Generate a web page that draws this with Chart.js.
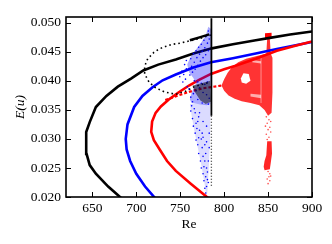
<!DOCTYPE html>
<html><head><meta charset="utf-8">
<script src="https://cdn.jsdelivr.net/npm/chart.js@4/dist/chart.umd.min.js"></script>
<style>html,body{margin:0;padding:0;background:#fff}#wrap{width:332px;height:244px}</style>
</head><body><div id="wrap"><canvas id="c" width="332" height="244"></canvas></div>
<script>
// ---- tick labels ----
const xTicks = [650, 700, 750, 800, 850, 900];
const yTicks = [0.020, 0.025, 0.030, 0.035, 0.040, 0.045, 0.050];

// ---- saddle-node curves ----
const blackRe = [683, 668, 654, 647, 643.5, 643, 647, 654, 666, 679, 694, 708, 725, 745, 765, 786, 810, 836, 852, 875, 900];
const blackE  = [0.0198, 0.0218, 0.0240, 0.0255, 0.0274, 0.0312, 0.0329, 0.0355, 0.0374, 0.0390, 0.0404, 0.0418, 0.0428, 0.0437, 0.0447, 0.0456, 0.0463, 0.0470, 0.0474, 0.0480, 0.0485];

const blueRe = [722, 710, 700, 693, 689, 688, 690, 697.6, 707, 718.5, 730, 745, 765, 785, 810, 836, 860, 880, 900];
const blueE  = [0.0197, 0.0218, 0.0240, 0.0262, 0.0282, 0.0300, 0.0325, 0.0355, 0.0374, 0.0389, 0.0401, 0.0411, 0.0423, 0.0432, 0.0439, 0.0447, 0.0455, 0.0461, 0.0467];

const redRe = [782, 762, 745, 735, 727, 720, 717, 718, 722, 728, 737, 748, 760, 772, 785, 800, 813, 836, 860, 880, 900];
const redE  = [0.0198, 0.0223, 0.0245, 0.0262, 0.0281, 0.0298, 0.0312, 0.0330, 0.0345, 0.0356, 0.0368, 0.0380, 0.0392, 0.0402, 0.0412, 0.0420, 0.0426, 0.0438, 0.0452, 0.0460, 0.0468];

// ---- unstable branches ----
const loopRe = [785, 772, 761, 750, 741, 733, 726, 720, 713, 709.5, 709.5, 714.5, 722, 732, 745, 756, 766, 784];
const loopE  = [0.0479, 0.0473, 0.0469, 0.0465, 0.0463, 0.0459, 0.0455, 0.0449, 0.0438, 0.0425, 0.0412, 0.0398, 0.0388, 0.0381, 0.0377, 0.0382, 0.0390, 0.0398];

const redDashRe = [733, 748, 760, 775, 797];
const redDashE  = [0.0367, 0.0375, 0.0381, 0.0387, 0.0392];

// ---- black attractor points ----
const blackTopRe = [761, 772, 783];
const blackTopE  = [0.0470, 0.0475, 0.0480];
const blackClusterRe = [764, 770, 784, 785, 779, 773, 767];
const blackClusterE  = [0.0392, 0.0394, 0.0400, 0.0364, 0.0360, 0.0366, 0.0380];
const blackVertRe = [785.5, 785.5];
const blackVertE  = [0.0508, 0.0340];
const blackVertDotRe = [785.5, 785.5];
const blackVertDotE  = [0.0340, 0.0218];

// ---- blue attractor cloud ----
const blueUpRe = [782, 785.5, 785, 784.5, 784.5, 780, 770, 763, 761, 763, 768, 765, 760, 758, 762, 768, 774, 779];
const blueUpE  = [0.0493, 0.0489, 0.0450, 0.0400, 0.0360, 0.0358, 0.0360, 0.0362, 0.0368, 0.0380, 0.0395, 0.0405, 0.0415, 0.0428, 0.0442, 0.0454, 0.0466, 0.0478];
const blueLowRe = [761, 784.5, 784, 782.5, 781, 780, 777.5, 774, 770, 766, 763];
const blueLowE  = [0.0360, 0.0360, 0.0300, 0.0250, 0.0210, 0.0200, 0.0225, 0.0255, 0.0285, 0.0315, 0.0340];
const blueDotRe = [749.5, 752, 754, 756, 757, 755, 753, 758, 760, 757, 762, 764, 765, 767, 768, 770, 771, 773, 774, 776, 777, 778, 779, 770, 775, 778, 772, 776, 780, 781, 766, 769, 774, 779,
  762, 765, 768, 771, 774, 777, 780, 782, 763, 766, 769, 772, 775, 778, 781, 783, 761, 764, 767, 770, 773, 776, 779, 782, 766, 770, 774, 778, 781, 762, 765, 768, 772, 776, 780, 783, 764, 770, 775, 782,
  763, 767, 771, 776, 780, 783, 768, 772, 776, 780, 783, 771, 775, 778, 782, 777, 781, 779, 780, 782];
const blueDotE  = [0.0407, 0.0417, 0.0411, 0.0403, 0.0421, 0.0428, 0.0398, 0.0390, 0.0386, 0.0435, 0.0348, 0.0335, 0.0322, 0.0310, 0.0298, 0.0290, 0.0275, 0.0262, 0.0250, 0.0240, 0.0228, 0.0215, 0.0207, 0.0330, 0.0310, 0.0290, 0.0345, 0.0270, 0.0250, 0.0230, 0.0352, 0.0318, 0.0300, 0.0275,
  0.0438, 0.0447, 0.0452, 0.0458, 0.0463, 0.0470, 0.0478, 0.0486, 0.0425, 0.0432, 0.0440, 0.0446, 0.0451, 0.0457, 0.0465, 0.0472, 0.0410, 0.0415, 0.0420, 0.0427, 0.0434, 0.0440, 0.0445, 0.0452, 0.0400, 0.0398, 0.0396, 0.0394, 0.0398, 0.0372, 0.0378, 0.0383, 0.0388, 0.0380, 0.0376, 0.0370, 0.0364, 0.0368, 0.0362, 0.0360,
  0.0357, 0.0345, 0.0338, 0.0330, 0.0322, 0.0310, 0.0327, 0.0315, 0.0303, 0.0295, 0.0285, 0.0302, 0.0285, 0.0262, 0.0262, 0.0252, 0.0243, 0.0235, 0.0218, 0.0225];

// ---- red attractor cloud ----
const redCloudRe = [797, 800, 804, 809, 816, 825, 835, 843, 848, 849, 852, 853, 855, 855, 854, 850, 846, 840, 830, 820, 812, 805, 800];
const redCloudE  = [0.0392, 0.0403, 0.0414, 0.0424, 0.0432, 0.0438, 0.0442, 0.0445, 0.0447, 0.0473, 0.0473, 0.0447, 0.0440, 0.0380, 0.0345, 0.0340, 0.0350, 0.0358, 0.0362, 0.0365, 0.0369, 0.0375, 0.0383];
const redTopRe = [846.5, 854, 854, 846.5];
const redTopE  = [0.0482, 0.0483, 0.0473, 0.0473];
const redBlobRe = [849, 854, 854.5, 853, 852, 846, 845, 846, 848];
const redBlobE  = [0.0296, 0.0296, 0.0275, 0.0258, 0.0248, 0.0246, 0.0252, 0.0262, 0.0272];
const holeARe = [819, 822, 828, 830, 825, 820];
const holeAE  = [0.0404, 0.0413, 0.0412, 0.0400, 0.0395, 0.0397];
const holeBRe = [832, 842, 842, 832];
const holeBE  = [0.0436, 0.0434, 0.0430, 0.0432];
const holeCRe = [830, 842, 842, 830];
const holeCE  = [0.0378, 0.0376, 0.0370, 0.0373];
const holeDRe = [841, 843, 843, 841];
const holeDE  = [0.0440, 0.0440, 0.0362, 0.0362];
const redDotRe = [848, 851, 849, 852, 850, 853, 848, 851, 849, 853, 850, 852, 851, 849, 852, 850, 853, 847];
const redDotE  = [0.0338, 0.0333, 0.0327, 0.0320, 0.0316, 0.0312, 0.0308, 0.0303, 0.0299, 0.0330, 0.0244, 0.0240, 0.0235, 0.0231, 0.0228, 0.0223, 0.0236, 0.0322];

const pts = (re, e) => re.map((v, i) => ({x: v, y: e[i]}));
const line = (re, e, color, w, order, dash) => ({data: pts(re, e), showLine: true, borderColor: color, borderWidth: w, pointRadius: 0, fill: false, order, borderDash: dash || [], borderCapStyle: 'butt'});
const poly = (re, e, color, order) => ({data: pts(re, e), showLine: true, borderWidth: 0, borderColor: 'rgba(0,0,0,0)', backgroundColor: color, pointRadius: 0, fill: 'shape', order});
const dots = (re, e, color, r, order) => ({data: pts(re, e), showLine: false, pointRadius: r, pointBorderWidth: 0, pointBackgroundColor: color, order});

const serif = '"Liberation Serif", "DejaVu Serif", serif';

const frameTicks = {
  id: 'frameTicks',
  afterDatasetsDraw(chart) {
    const {ctx, chartArea: a, scales: {x, y}} = chart;
    ctx.save();
    ctx.strokeStyle = '#000';
    ctx.lineWidth = 1;
    ctx.beginPath();
    x.ticks.forEach(t => {
      const p = Math.round(x.getPixelForValue(t.value)) + 0.5;
      ctx.moveTo(p, a.bottom); ctx.lineTo(p, a.bottom - 5);
      ctx.moveTo(p, a.top); ctx.lineTo(p, a.top + 5);
    });
    y.ticks.forEach(t => {
      const p = Math.round(y.getPixelForValue(t.value)) + 0.5;
      ctx.moveTo(a.left, p); ctx.lineTo(a.left + 5, p);
      ctx.moveTo(a.right, p); ctx.lineTo(a.right - 5, p);
    });
    ctx.stroke();
    ctx.lineWidth = 1.6;
    ctx.strokeRect(a.left, a.top, a.right - a.left, a.bottom - a.top);
    ctx.restore();
  }
};

new Chart(document.getElementById('c'), {
  type: 'scatter',
  data: {
    datasets: [
      poly(redCloudRe, redCloudE, 'rgba(255,0,0,0.8)', 30),
      poly(holeARe, holeAE, '#ffffff', 29),
      poly(holeBRe, holeBE, 'rgba(255,255,255,0.6)', 29),
      poly(holeCRe, holeCE, 'rgba(255,255,255,0.6)', 29),
      poly(holeDRe, holeDE, 'rgba(255,255,255,0.25)', 29),
      poly(redTopRe, redTopE, '#ff0000', 28),
      poly(redBlobRe, redBlobE, 'rgba(255,0,0,0.85)', 28),
      dots(redDotRe, redDotE, 'rgba(255,0,0,0.7)', 0.8, 28),
      line(blackRe, blackE, '#000000', 2.6, 20),
      line(blueRe, blueE, '#0000ff', 2.6, 19),
      line(redRe, redE, '#ff0000', 2.6, 18),
      line(loopRe, loopE, '#000000', 1.6, 17, [1.6, 3]),
      line(redDashRe, redDashE, '#ff0000', 2.2, 16, [3, 2]),
      poly(blueUpRe, blueUpE, 'rgba(0,0,255,0.33)', 12),
      poly(blueLowRe, blueLowE, 'rgba(0,0,255,0.14)', 12),
      dots(blueDotRe, blueDotE, '#0000ff', 0.8, 11),
      line(blackTopRe, blackTopE, '#000000', 2.5, 5),
      poly(blackClusterRe, blackClusterE, 'rgba(0,0,0,0.5)', 5),
      line(blackVertRe, blackVertE, '#000000', 1.8, 4),
      line(blackVertDotRe, blackVertDotE, 'rgba(0,0,0,0.8)', 1.3, 4, [1, 2])
    ]
  },
  options: {
    responsive: false,
    animation: false,
    devicePixelRatio: 1,
    layout: {padding: {left: 0, right: 20, top: 17, bottom: 0}},
    plugins: {legend: {display: false}, tooltip: {enabled: false}},
    scales: {
      x: {
        type: 'linear', min: 620, max: 900,
        afterBuildTicks: s => { s.ticks = xTicks.map(v => ({value: v})); },
        afterFit: s => { s.height = 47; },
        grid: {display: false, drawTicks: false},
        border: {display: false},
        ticks: {color: '#000', padding: 3, font: {family: serif, size: 13.5}, callback: v => String(v), maxRotation: 0},
        title: {display: true, text: 'Re', color: '#000', font: {family: serif, size: 13.5}, padding: {top: 0, bottom: 11}}
      },
      y: {
        type: 'linear', min: 0.020, max: 0.051,
        afterBuildTicks: s => { s.ticks = yTicks.map(v => ({value: v})); },
        afterFit: s => { s.width = 66; },
        grid: {display: false, drawTicks: false},
        border: {display: false},
        ticks: {color: '#000', padding: 5, font: {family: serif, size: 13.5}, callback: v => Number(v).toFixed(3)},
        title: {display: true, text: 'E(u)', color: '#000', font: {family: serif, size: 13.5, style: 'italic'}, padding: {top: 12, bottom: 0}}
      }
    }
  },
  plugins: [frameTicks]
});
</script>
</body></html>
